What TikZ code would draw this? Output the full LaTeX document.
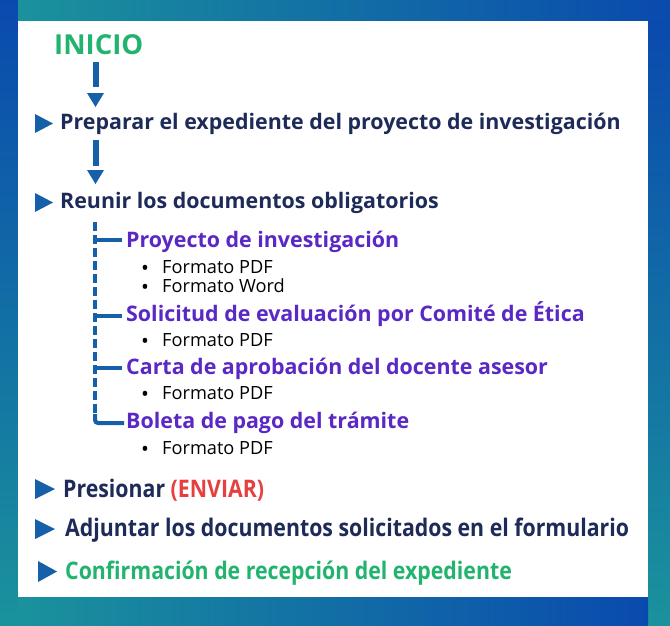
\documentclass[tikz,border=0pt]{standalone}
\usepackage{fontspec}
\setmainfont{Open Sans}
\newfontfamily\condfont{Open Sans}[FakeStretch=0.88]
\usetikzlibrary{calc}
\definecolor{navy}{HTML}{1E2B58}
\definecolor{arrowblue}{HTML}{1660AA}
\definecolor{startgreen}{HTML}{22B46E}
\definecolor{purp}{HTML}{5A28C4}
\definecolor{alertred}{HTML}{E5403F}
\definecolor{bgblue}{HTML}{0A4AAE}
\definecolor{bgteal}{HTML}{1A929C}
\newcommand\bul{\makebox[21pt][l]{\smash{\raisebox{-2.3pt}{\fontsize{21}{21}\selectfont •}}}}
\begin{document}
\begin{tikzpicture}[x=1pt,y=-1pt,
  lbl/.style={inner sep=0pt,anchor=base west},
  stepnode/.style={lbl,font=\fontsize{21.4}{25}\selectfont\bfseries,text=navy},
  docnode/.style={lbl,font=\fontsize{21.4}{25}\selectfont\bfseries,text=purp},
  fmtnode/.style={lbl,font=\fontsize{18.2}{21}\selectfont,text=black},
  endnode/.style={lbl,font=\condfont\fontsize{24.2}{28}\selectfont\bfseries,text=navy},
  stem/.style={draw=arrowblue,line width=6pt},
  tri/.style={fill=arrowblue},
  branch/.style={draw=arrowblue,line width=4pt},
  trunk/.style={draw=arrowblue,line width=4pt,dash pattern=on 9pt off 4pt},
]
\useasboundingbox (0,0) rectangle (670,625);
% background frame
\shade[top color=bgblue,bottom color=bgteal] (0,0) rectangle (18,625);
\shade[left color=bgteal,right color=bgblue] (18,0) rectangle (670,21);
\shade[top color=bgblue,bottom color=bgteal] (648,21) rectangle (670,625);
\shade[left color=bgteal,right color=bgblue] (18,597) rectangle (648,625);
\fill[white] (18,21) rectangle (648,597);

% texts
\node[lbl,font=\fontsize{27.5}{32}\selectfont\bfseries,text=startgreen] (inicio) at (54,54) {INICIO};
\node[stepnode] (s1) at (60,129) {Preparar el expediente del proyecto de investigación};
\node[stepnode] (s2) at (60,208) {Reunir los documentos obligatorios};

\node[docnode] (d1) at (126,247) {Proyecto de investigación};
\node[fmtnode] (f1) at (141,273) {\bul Formato PDF};
\node[fmtnode] (f2) at (141,292) {\bul Formato Word};
\node[docnode] (d2) at (126,321) {Solicitud de evaluación por Comité de Ética};
\node[fmtnode] (f3) at (141,346) {\bul Formato PDF};
\node[docnode] (d3) at (126,374) {Carta de aprobación del docente asesor};
\node[fmtnode] (f4) at (141,399) {\bul Formato PDF};
\node[docnode] (d4) at (126,428) {Boleta de pago del trámite};
\node[fmtnode] (f5) at (141,454) {\bul Formato PDF};

\node[endnode] (s3) at (63,497) {Presionar \textcolor{alertred}{(ENVIAR)}};
\node[endnode] (s4) at (65,536) {Adjuntar los documentos solicitados en el formulario};
\node[endnode,text=startgreen] (s5) at (65,579) {Confirmación de recepción del expediente};

% down arrows
\coordinate (a1) at (95.5,62);
\coordinate (a2) at (95.5,140);
\draw[stem] (a1) -- ++(0,25);
\fill[tri] ($(a1)+(-8.5,31)$) -- ++(17,0) -- ++(-8.5,14) -- cycle;
\draw[stem] (a2) -- ++(0,26);
\fill[tri] ($(a2)+(-8.5,30)$) -- ++(17,0) -- ++(-8.5,14) -- cycle;

% right-pointing markers
\fill[tri] (35,114) -- (53,123.5) -- (35,133) -- cycle;
\fill[tri] (35,193) -- (53,202.5) -- (35,212) -- cycle;
\fill[tri] (35,479) -- (55,489) -- (35,499) -- cycle;
\fill[tri] (35,519) -- (55,529) -- (35,539) -- cycle;
\fill[tri] (38,561) -- (57,571.5) -- (38,582) -- cycle;

% tree of documents
\coordinate (t0) at (95,222);
\draw[trunk] (t0) -- (95,416);
\draw[branch,rounded corners=3pt] (95,414) -- (95,423) -- (d4.west |- 0,423) -- ++(-4,0);
\draw[branch] (93,240) -- ($(d1.west |- 0,240)+(-4,0)$);
\draw[branch] (93,316) -- ($(d2.west |- 0,316)+(-4,0)$);
\draw[branch] (93,368) -- ($(d3.west |- 0,368)+(-4,0)$);
\end{tikzpicture}
\end{document}
